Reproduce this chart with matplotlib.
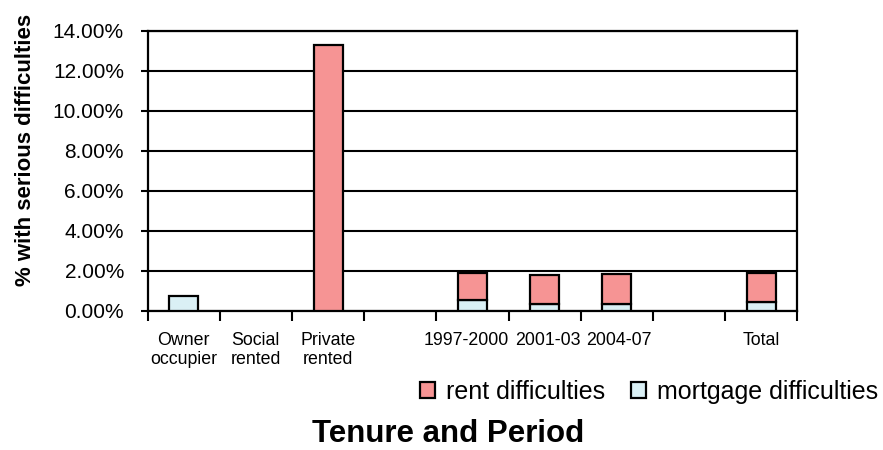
import matplotlib
matplotlib.use("Agg")
import matplotlib.pyplot as plt
import matplotlib.transforms as mtransforms
from matplotlib.patches import Patch
from matplotlib.ticker import FuncFormatter, FixedLocator

plt.rcParams['font.family'] = ['Liberation Sans', 'DejaVu Sans']

categories = ["Owner\noccupier", "Social\nrented", "Private\nrented", "",
              "1997-2000", "2001-03", "2004-07", "", "Total"]
mortgage = [0.73, 0.0, 0.0, 0.0, 0.57, 0.33, 0.37, 0.0, 0.47]
rent = [0.0, 0.0, 13.32, 0.0, 1.33, 1.49, 1.50, 0.0, 1.45]
yticks = [0, 2, 4, 6, 8, 10, 12, 14]

rent_color = '#F69494'
mort_color = '#DAF0F5'

fig = plt.figure(figsize=(8.83, 4.5), dpi=100)
ax = fig.add_axes([147.5/883, 1-311/450, 650/883, 280/450])

x = list(range(len(categories)))
ax.set_axisbelow(True)
for i in x:
    if mortgage[i] > 0:
        ax.bar(i, mortgage[i], width=0.40, color=mort_color, edgecolor='black',
               linewidth=1.6, zorder=3)
    if rent[i] > 0:
        ax.bar(i, rent[i], width=0.40, bottom=mortgage[i], color=rent_color,
               edgecolor='black', linewidth=1.6, zorder=3)

ax.set_xlim(-0.5, len(categories) - 0.5)
ax.set_ylim(0, 14)
ax.set_yticks(yticks)
ax.yaxis.set_major_formatter(FuncFormatter(lambda v, p: f"{v:.2f}%"))
ax.yaxis.grid(True, color='black', linewidth=1.5)
ax.tick_params(axis='y', length=5, width=1.5, pad=12, labelsize=15)

ax.xaxis.set_major_locator(FixedLocator([i - 0.5 for i in range(len(categories) + 1)]))
ax.xaxis.set_minor_locator(FixedLocator(x))
ax.set_xticklabels([], minor=False)
ax.set_xticks(x, categories, minor=True)
ax.tick_params(axis='x', which='major', length=7, width=1.5, direction='out')
ax.tick_params(axis='x', which='minor', length=0, pad=15, labelsize=12.8)
shifts = {4: -6, 5: 3, 6: 2}
for i, lab in enumerate(ax.get_xticklabels(minor=True)):
    lab.set_verticalalignment('top')
    lab.set_horizontalalignment('center')
    lab.set_multialignment('center')
    if i in shifts:
        off = mtransforms.ScaledTranslation(shifts[i] / 100, 0, fig.dpi_scale_trans)
        lab.set_transform(lab.get_transform() + off)

for s in ax.spines.values():
    s.set_linewidth(1.6)
    s.set_color('black')

handles = [Patch(facecolor=rent_color, edgecolor='black', linewidth=1.6, label='rent difficulties'),
           Patch(facecolor=mort_color, edgecolor='black', linewidth=1.6, label='mortgage difficulties')]
fig.legend(handles=handles, loc='center right', bbox_to_anchor=(878/883, 1-392/450),
           ncol=2, frameon=False, fontsize=18, handlelength=0.6, handleheight=0.6,
           handletextpad=0.45, columnspacing=1.0, borderpad=0, borderaxespad=0)

fig.text(26/883, 1-150/450, '% with serious difficulties', rotation=90, ha='center',
         va='center', fontsize=16, fontweight='bold')
fig.text(448/883, 1-442/450, 'Tenure and Period', ha='center', va='baseline',
         fontsize=22.5, fontweight='bold')

fig.savefig('out.png', dpi=100)
